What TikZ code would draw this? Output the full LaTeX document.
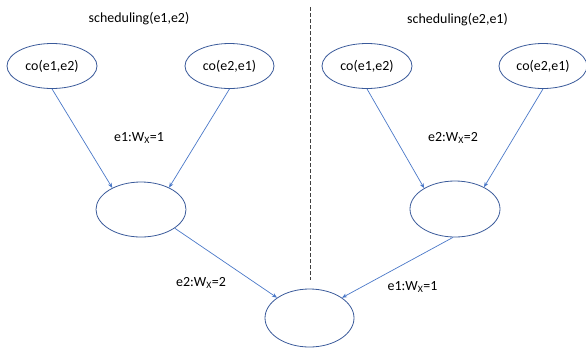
\documentclass[tikz,border=0pt]{standalone}
\usepackage{fontspec}
\setmainfont{Carlito}
\usetikzlibrary{shapes.geometric,arrows.meta}
\definecolor{elbord}{HTML}{3A5A9A}
\definecolor{arrblue}{HTML}{4A78C8}
\tikzset{
  ev/.style={ellipse, draw=elbord, line width=0.8bp, inner sep=0pt, font=\fontsize{14}{16}\selectfont},
  conn/.style={draw=arrblue, line width=0.7bp, -{Stealth[length=5bp,width=4bp]}},
  lbl/.style={font=\fontsize{14}{16}\selectfont, inner sep=0pt}
}
\begin{document}
\begin{tikzpicture}[x=1bp,y=-1bp]
\useasboundingbox (0,0) rectangle (586,347);
\begin{scope}
\clip (0,0) rectangle (586,347);
\node[ev, minimum width=90bp, minimum height=45bp] (a) at (52,66) {co(e1,e2)};
\node[ev, minimum width=89bp, minimum height=45bp] (b) at (229.5,66) {co(e2,e1)};
\node[ev, minimum width=90bp, minimum height=45bp] (c) at (367,66) {co(e1,e2)};
\node[ev, minimum width=88bp, minimum height=45bp] (d) at (543,66) {co(e2,e1)};
\node[ev, minimum width=90bp, minimum height=55bp] (m1) at (141,209.5) {};
\node[ev, minimum width=90bp, minimum height=56bp] (m2) at (455,209) {};
\node[ev, minimum width=89bp, minimum height=58bp] (f) at (309.5,318) {};

\coordinate (dtop) at (310,7);
\coordinate (dbot) at (310,280);
\draw[draw=black!75, line width=0.8bp, dash pattern=on 4bp off 2bp] (dtop) -- (dbot);

\node[lbl] (s1) at (139,19) {scheduling(e1,e2)};
\node[lbl] (s2) at (457.5,20) {scheduling(e2,e1)};
\node[lbl] (l1) at (139,138) {e1:W\textsubscript{X}=1};
\node[lbl] (l2) at (453,138) {e2:W\textsubscript{X}=2};
\node[lbl] (l3) at (201,283) {e2:W\textsubscript{X}=2};
\node[lbl] (l4) at (412.5,287) {e1:W\textsubscript{X}=1};

\draw[conn] (a.south) -- (m1.143);
\draw[conn] (b.south) -- (m1.38);
\draw[conn] (c.south) -- (m2.146);
\draw[conn] (d.south) -- (m2.37);
\draw[conn] (m1.-29) -- (f.148);
\draw[conn] (m2.266) -- (f.32);
\end{scope}
\end{tikzpicture}
\end{document}
